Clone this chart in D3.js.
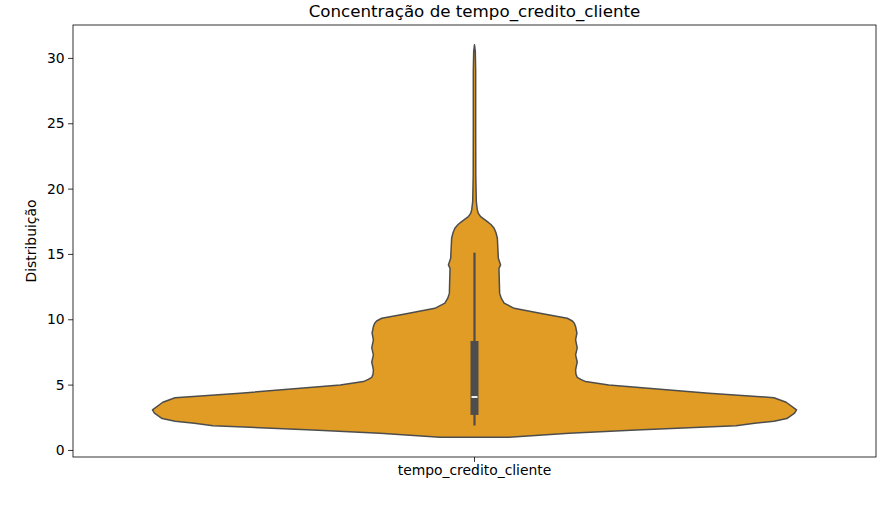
<!DOCTYPE html>
<html><head><meta charset="utf-8">
<script src="https://cdn.jsdelivr.net/npm/d3@7"></script>
<style>
html,body{margin:0;padding:0;background:#fff;}
text{font-family:"DejaVu Sans",sans-serif;fill:#000;}
</style></head>
<body><svg id="c" width="885" height="510"></svg>
<script>
const title = "Concentração de tempo_credito_cliente";
const yLabel = "Distribuição";
const categories = ["tempo_credito_cliente"];
const yTicks = [0, 5, 10, 15, 20, 25, 30];
// violin outline: value along y, relative density (half-width, max = 1)
const violinValues = [0.97, 1.28, 1.53, 1.86, 2.05, 2.2, 2.4, 2.81, 3.06, 3.65, 4.0, 4.34, 4.97, 5.23, 5.4, 5.56, 5.8, 6.12,
  6.73, 7.27, 7.81, 8.42, 8.95, 9.44, 9.7, 9.87, 10.08, 10.41, 10.84, 11.23, 11.61, 12.0, 13.9, 14.16, 14.67,
  16.2, 16.6, 16.97, 17.25, 17.47, 17.85, 18.1, 18.37, 19.0, 21.0, 25.0, 29.0, 30.5, 31.0];
const violinDensity = [0.107, 0.294, 0.502, 0.812, 0.87, 0.93, 0.97, 0.994, 1.0, 0.968, 0.930, 0.728, 0.417, 0.345, 0.330, 0.319, 0.315, 0.314,
  0.319, 0.314, 0.319, 0.314, 0.318, 0.314, 0.310, 0.304, 0.288, 0.216, 0.123, 0.092, 0.083, 0.078, 0.076, 0.081, 0.074,
  0.071, 0.067, 0.061, 0.051, 0.040, 0.019, 0.012, 0.0087, 0.0056, 0.004, 0.0037, 0.0037, 0.0025, 0.0];
// inner box stats
const boxStats = {whiskerLow: 1.87, q1: 2.68, median: 4.05, q3: 8.34, whiskerHigh: 15.1};

const svg = d3.select("#c");
const m = {l: 73, r: 876, t: 25, b: 457};
const y = d3.scaleLinear().domain([-0.54, 32.52]).range([m.b, m.t]);
const x = d3.scaleBand().domain(categories).range([m.l, m.r]);
const w = d3.scaleLinear().domain([0, 1]).range([0, 322]);
const cx = x(categories[0]) + x.bandwidth() / 2;

const pts = violinValues.map((v, i) => ({v, d: violinDensity[i]}));
const area = d3.area()
  .y(p => y(p.v))
  .x0(p => cx - w(p.d))
  .x1(p => cx + w(p.d))
  .curve(d3.curveLinear);
svg.append("path").attr("d", area(pts))
  .attr("fill", "#e09c24").attr("stroke", "#4d4d4d").attr("stroke-width", 1.5)
  .attr("stroke-linejoin", "round");

// inner box
svg.append("line").attr("x1", cx).attr("x2", cx)
  .attr("y1", y(boxStats.whiskerLow)).attr("y2", y(boxStats.whiskerHigh))
  .attr("stroke", "#4d4d4d").attr("stroke-width", 2.2);
svg.append("rect").attr("x", cx - 4).attr("width", 8)
  .attr("y", y(boxStats.q3)).attr("height", y(boxStats.q1) - y(boxStats.q3))
  .attr("fill", "#4d4d4d");
svg.append("line").attr("x1", cx - 3).attr("x2", cx + 3)
  .attr("y1", y(boxStats.median)).attr("y2", y(boxStats.median))
  .attr("stroke", "#ececec").attr("stroke-width", 2);

// axes
const yAxis = d3.axisLeft(y).tickValues(yTicks).tickSize(4.9).tickPadding(3.5);
const gy = svg.append("g").attr("transform", `translate(${m.l},0)`).call(yAxis);
const xAxis = d3.axisBottom(x).tickSize(4.9).tickPadding(3.5);
const gx = svg.append("g").attr("transform", `translate(0,${m.b})`).call(xAxis);
[gy, gx].forEach(g => {
  g.select(".domain").remove();
  g.selectAll("text").style("font-size", "13.9px").style("font-family", "DejaVu Sans").attr("fill", "#000");
  g.selectAll("line").attr("stroke", "#000").attr("stroke-width", 0.8);
});
svg.append("rect").attr("x", m.l).attr("y", m.t).attr("width", m.r - m.l).attr("height", m.b - m.t)
  .attr("fill", "none").attr("stroke", "#000").attr("stroke-width", 0.8);

svg.append("text").attr("x", cx).attr("y", 17).attr("text-anchor", "middle")
  .style("font-size", "16.7px").text(title);
svg.append("text").attr("transform", `translate(36,${(m.t + m.b) / 2}) rotate(-90)`)
  .attr("text-anchor", "middle").style("font-size", "13.9px").text(yLabel);
</script></body></html>
